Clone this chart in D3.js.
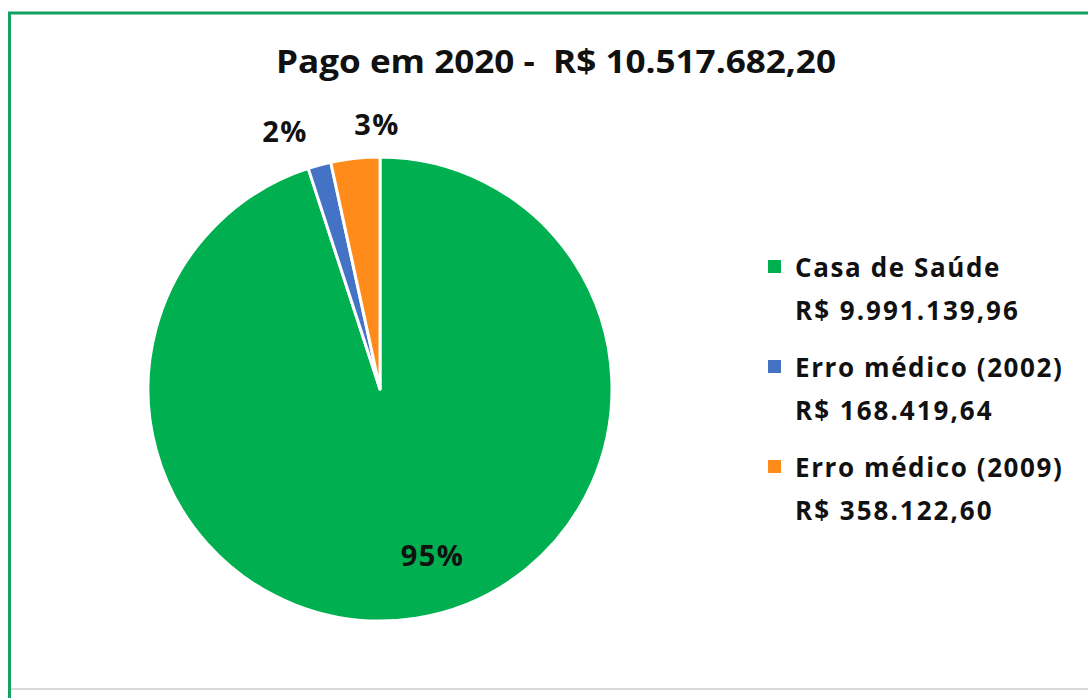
<!DOCTYPE html>
<html>
<head>
<meta charset="utf-8">
<script src="https://cdn.jsdelivr.net/npm/d3@7"></script>
<style>
  html, body { margin: 0; padding: 0; background: #fff; }
  svg { display: block; }
  text { font-family: "Open Sans", Lato, sans-serif; font-weight: bold; fill: #111; }
</style>
</head>
<body>
<div id="chart"></div>
<script>
// chart data
const categories = ["Casa de Saúde", "Erro médico (2002)", "Erro médico (2009)"];
const values = [9991139.96, 168419.64, 358122.60];
const valueLabels = ["R$ 9.991.139,96", "R$ 168.419,64", "R$ 358.122,60"];
const colors = ["#00b050", "#4472c4", "#ff8c1a"];
const titleText = "Pago em 2020 -  R$ 10.517.682,20";

const width = 1088;
const height = 698;

const svg = d3.select("#chart")
    .append("svg")
    .attr("width", width)
    .attr("height", height);

// outer frame (green) and the grey bottom line
svg.append("rect")
    .attr("x", 9.5).attr("y", 13)
    .attr("width", 1100).attr("height", 720)
    .attr("fill", "none")
    .attr("stroke", "#13a060")
    .attr("stroke-width", 3);

svg.append("line")
    .attr("x1", 11).attr("x2", width)
    .attr("y1", 689).attr("y2", 689)
    .attr("stroke", "#d9d9d9")
    .attr("stroke-width", 2);

// title
svg.append("text")
    .attr("x", 556)
    .attr("y", 73)
    .attr("text-anchor", "middle")
    .attr("font-size", 33)
    .attr("textLength", 560)
    .attr("lengthAdjust", "spacingAndGlyphs")
    .style("white-space", "pre")
    .text(titleText);

// pie
const cx = 380, cy = 389, radius = 232;
const total = d3.sum(values);
const data = categories.map((c, i) => ({ name: c, value: values[i], color: colors[i], money: valueLabels[i] }));

const pie = d3.pie().sort(null).value(d => d.value);
const arcs = pie(data);
const arc = d3.arc().innerRadius(0).outerRadius(radius);

const g = svg.append("g").attr("transform", `translate(${cx},${cy})`);

g.selectAll("path")
    .data(arcs)
    .enter()
    .append("path")
    .attr("d", arc)
    .attr("fill", d => d.data.color)
    .attr("stroke", "#fff")
    .attr("stroke-width", 3)
    .attr("stroke-linejoin", "round");

// labels: big slices inside, small ones outside (spread apart so they don't clash)
const pct = d => Math.round(d.data.value / total * 100) + "%";
const insideArc = d3.arc().innerRadius(radius * 0.73).outerRadius(radius * 0.73);
const outsideArc = d3.arc().innerRadius(radius + 34).outerRadius(radius + 34);

const labels = arcs.map(d => {
    const inside = (d.endAngle - d.startAngle) > 0.5;
    const [x, y] = inside ? insideArc.centroid(d) : outsideArc.centroid(d);
    return { d, x, y, inside };
});

const outside = labels.filter(l => !l.inside).sort((a, b) => a.x - b.x);
if (outside.length > 1) {
    const mid = d3.mean(outside, l => l.x);
    const gap = 92;
    outside.forEach((l, i) => { l.x = mid + (i - (outside.length - 1) / 2) * gap; });
}

g.selectAll("text.pct")
    .data(labels)
    .enter()
    .append("text")
    .attr("class", "pct")
    .attr("x", l => l.inside ? l.x + 26 : l.x)
    .attr("y", l => l.y)
    .attr("dy", "0.35em")
    .attr("text-anchor", "middle")
    .attr("font-size", 29)
    .attr("letter-spacing", 1.5)
    .text(l => pct(l.d));

// legend
const legendX = 768, legendY = 260, itemStep = 100, lineStep = 43;
const legend = svg.append("g");

const items = legend.selectAll("g")
    .data(data)
    .enter()
    .append("g")
    .attr("transform", (d, i) => `translate(${legendX},${legendY + i * itemStep})`);

items.append("rect")
    .attr("width", 13)
    .attr("height", 13)
    .attr("fill", d => d.color);

items.append("text")
    .attr("x", 27)
    .attr("y", 17)
    .attr("font-size", 26)
    .attr("letter-spacing", 1.6)
    .text(d => d.name);

items.append("text")
    .attr("x", 27)
    .attr("y", 17 + lineStep)
    .attr("font-size", 26)
    .attr("letter-spacing", 2)
    .text(d => d.money);
</script>
</body>
</html>
